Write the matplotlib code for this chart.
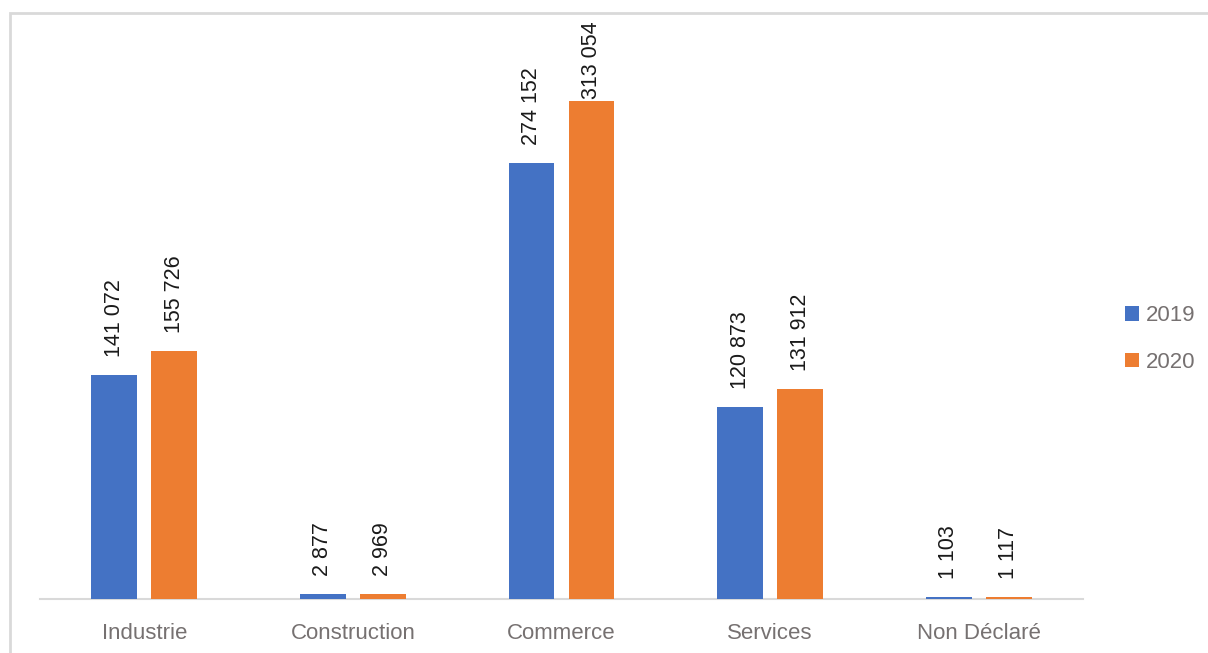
import matplotlib.pyplot as plt
from matplotlib.patches import Rectangle
import numpy as np

# Effectifs par secteur d'activité
categories = ['Industrie', 'Construction', 'Commerce', 'Services', 'Non Déclaré']
years = ['2019', '2020']
values_2019 = [141072, 2877, 274152, 120873, 1103]
values_2020 = [155726, 2969, 313054, 131912, 1117]

colors = ['#4472C4', '#ED7D31']
plt.rcParams['font.family'] = ['Liberation Sans', 'DejaVu Sans']

W, H = 1208, 653
fig = plt.figure(figsize=(W / 100, H / 100), dpi=100)

# chart area frame (only top and left edges fall inside the canvas)
fig.patches.append(Rectangle((10 / W, -0.1), 1.2, (H - 13) / H + 0.1,
                             transform=fig.transFigure, fill=False,
                             edgecolor='#D9D9D9', linewidth=2))

ax_h = 586
ymax = 368400
ax = fig.add_axes([40 / W, (H - 599) / H, 1043 / W, ax_h / H])

label_size = 15.5
label_len = 80   # approx. pixel length of a rotated "xxx xxx" label

x = np.arange(len(categories))
width = 0.22
offset = 0.144
series = [values_2019, values_2020]
for i, (year, vals) in enumerate(zip(years, series)):
    pos = x + (i * 2 - 1) * offset
    bars = ax.bar(pos, vals, width, color=colors[i], label=year, zorder=3)
    for b, v in zip(bars, vals):
        # keep the label inside the plot area when the bar is tall
        room = (ymax - v) / ymax * ax_h
        gap = max(2, min(18, room - label_len - 7))
        ax.annotate(f"{v:,}".replace(",", " "),
                    (b.get_x() + b.get_width() / 2, b.get_height()),
                    xytext=(0, gap * 0.72), textcoords='offset points',
                    rotation=90, ha='center', va='bottom',
                    fontsize=label_size, color='#1a1a1a')

ax.set_xlim(-0.5, len(categories) - 0.5)
ax.set_ylim(0, ymax)
ax.set_xticks(x)
ax.set_xticklabels(categories, fontsize=16, color='#767171')
ax.tick_params(axis='x', length=0, pad=17)
ax.set_yticks([])
for s in ['top', 'right', 'left']:
    ax.spines[s].set_visible(False)
ax.spines['bottom'].set_color('#D9D9D9')
ax.spines['bottom'].set_linewidth(1.5)

fig.legend(loc='center left', bbox_to_anchor=(1105 / W, 1 - 339 / H),
           frameon=False, fontsize=16, labelcolor='#767171',
           handlelength=0.65, handleheight=0.65, handletextpad=0.3,
           labelspacing=1.15)

fig.savefig('out.png', dpi=100)
